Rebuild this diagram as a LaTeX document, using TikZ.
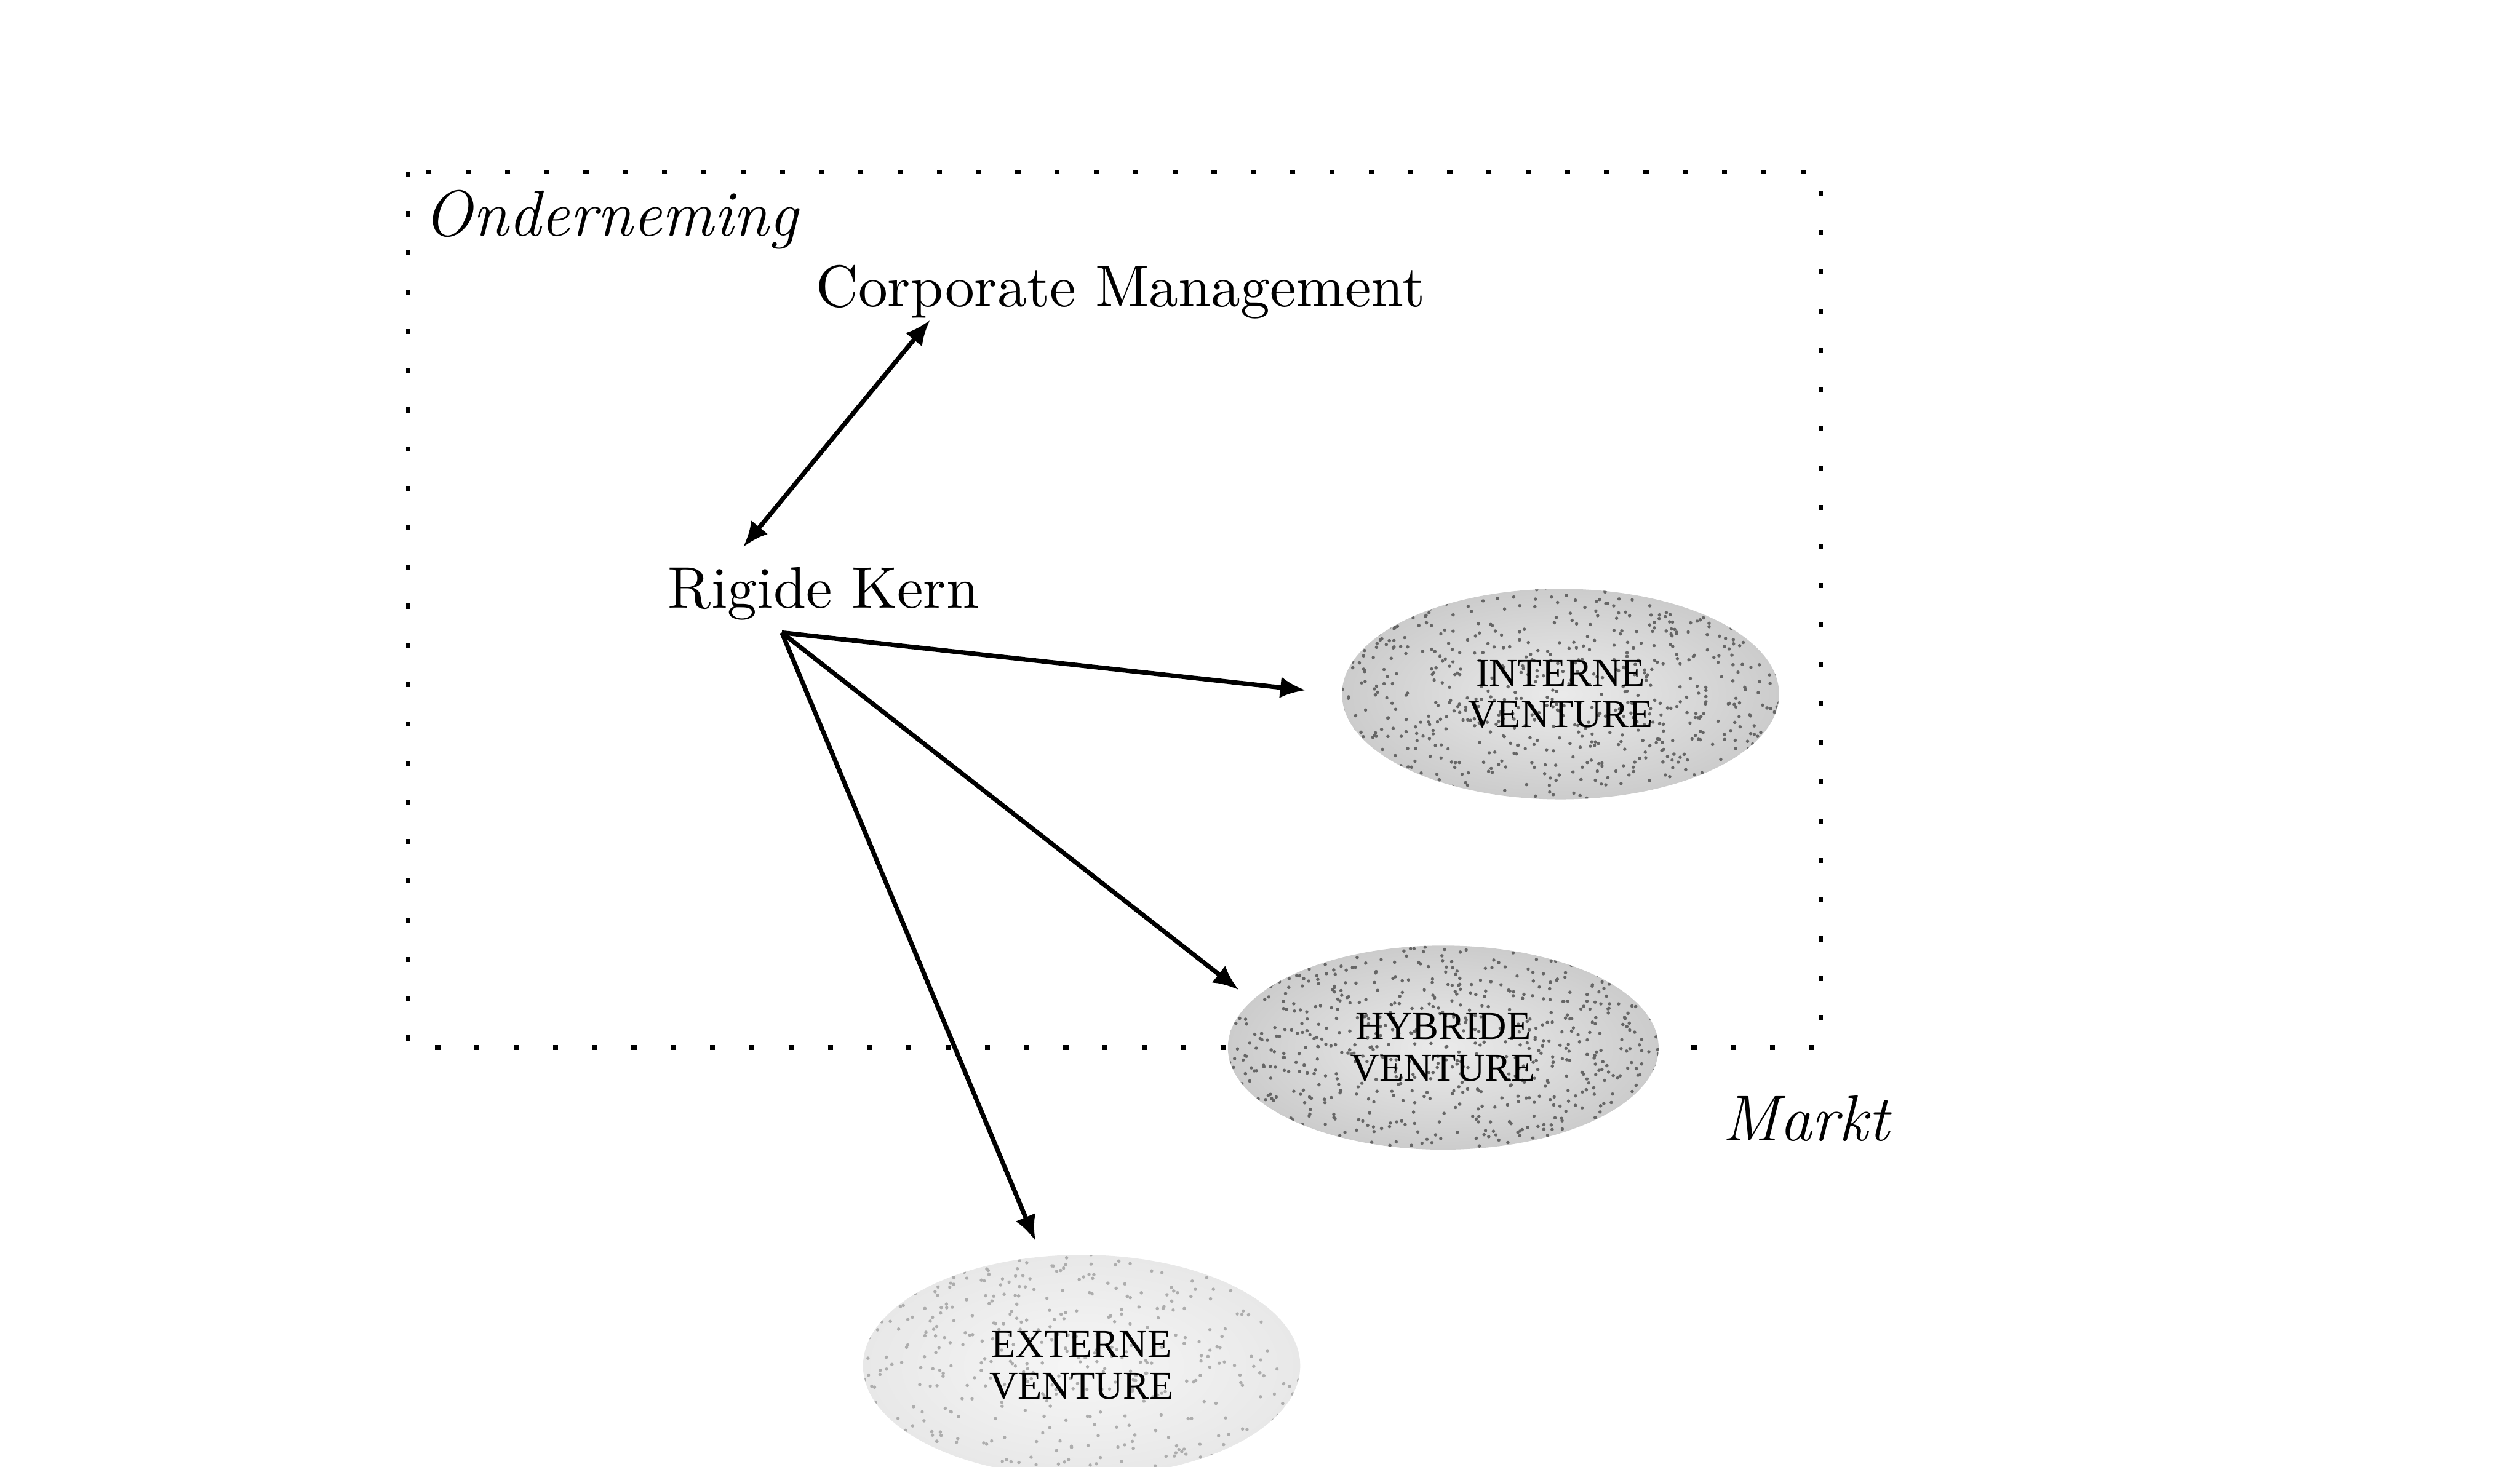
\documentclass[tikz,border=0pt]{standalone}
\usepackage{fontspec}
\newfontfamily\capsfont{Liberation Serif}
\usetikzlibrary{positioning,arrows.meta,shapes.geometric}

\pgfmathsetseed{42}
\tikzset{
  >={Latex[length=4.5pt,width=3.8pt]},
  lbl/.style={inner sep=0pt, font=\fontsize{10.4}{12}\selectfont},
  region/.style={inner sep=0pt, font=\fontsize{11.5}{13}\selectfont\itshape},
  % grainy grey fill of the venture ellipses
  grain/.style n args={2}{path picture={
    \foreach \i in {1,...,#1}
      \fill[black!#2] ([shift={({rnd*2.8},{rnd*1.45})}]path picture bounding box.south west) circle (0.3pt);
  }},
  venture/.style={ellipse, minimum width=2.72cm, minimum height=1.31cm,
    inner sep=0pt, align=center, font=\fontsize{7}{7.4}\selectfont\capsfont,
    inner color=gray!16, outer color=gray!40, grain={900}{60}},
  link/.style={->, line width=0.8pt},
  frame/.style={line width=0.8pt, dash pattern=on 0.9pt off 6.05pt},
}

\begin{document}
\begin{tikzpicture}
\useasboundingbox (0,0) rectangle (15.68,9.13);

% boundary of the firm
\draw[frame] (2.54,8.06) rectangle (11.33,2.61);

\node[region, anchor=base west] (firm) at (2.63,7.66) {Onderneming};
\node[lbl, anchor=base west] (cm) at (5.07,7.22) {Corporate Management};
\node[lbl, anchor=base west] (rk) at (4.15,5.345) {Rigide Kern};
\node[region, anchor=base west] (mkt) at (10.71,2.03) {Markt};

% the three kinds of venture
\node[venture] (int) at (9.71,4.81) {INTERNE\\VENTURE};
\node[venture, minimum width=2.68cm, minimum height=1.27cm] (hyb) at (8.98,2.61) {HYBRIDE\\VENTURE};
\node[venture, minimum height=1.38cm, inner color=gray!7, outer color=gray!18,
  grain={550}{32}] (ext) at (6.73,0.63) {EXTERNE\\VENTURE};

\coordinate (hub) at ([xshift=-0.26cm, yshift=-0.07cm]rk.south);

\draw[link, <->] ([xshift=-1.185cm]cm.south) -- ([xshift=-0.5cm, yshift=0.12cm]rk.north);
\draw[link, shorten >=0.22cm] (hub) -- (int.west);
\draw[link, shorten >=0.1cm] (hub) -- (hyb.166);
\draw[link, shorten >=0.1cm] (hub) -- (ext.110);

\end{tikzpicture}
\end{document}
